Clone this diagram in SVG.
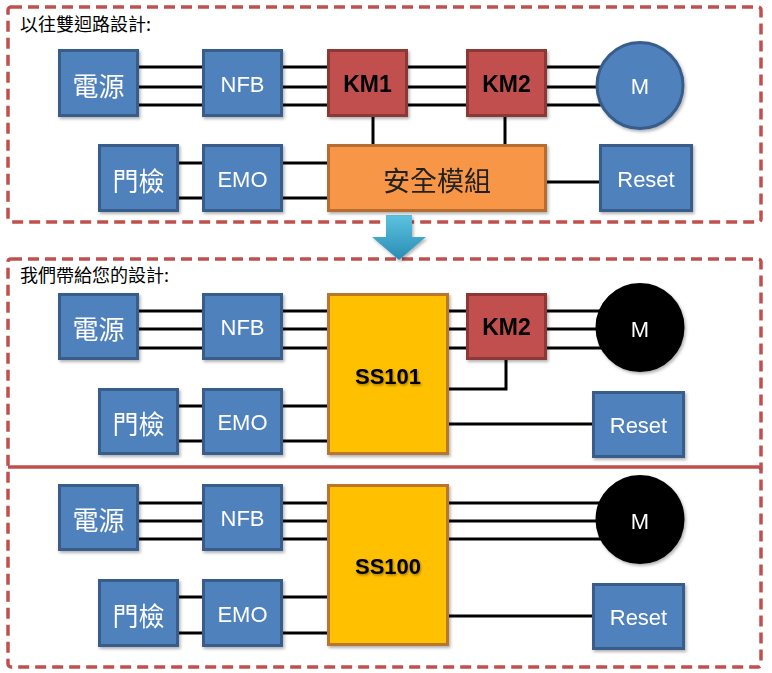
<svg xmlns="http://www.w3.org/2000/svg" width="772" height="673" viewBox="0 0 772 673">
<defs>
<filter id="sh" x="-20%" y="-20%" width="140%" height="140%">
<feDropShadow dx="1.5" dy="2" stdDeviation="1.5" flood-color="#000" flood-opacity="0.3"/>
</filter>
<filter id="tsh" x="-20%" y="-20%" width="140%" height="140%">
<feDropShadow dx="1" dy="1.5" stdDeviation="1" flood-color="#000" flood-opacity="0.35"/>
</filter>
<linearGradient id="ag" x1="0" y1="0" x2="0" y2="1">
<stop offset="0" stop-color="#5CC3E0"/>
<stop offset="1" stop-color="#2A8BB3"/>
</linearGradient>
</defs>
<style>
.frame{fill:none;stroke:#C0504D;stroke-width:3.5;stroke-dasharray:11 6}
.sep{fill:none;stroke:#C0504D;stroke-width:3.5}
.blue{fill:#4F81BD;stroke:#385D8A;stroke-width:3}
.red{fill:#C0504D;stroke:#8C3836;stroke-width:3}
.orange{fill:#F79646;stroke:#B66D31;stroke-width:3}
.yellow{fill:#FFC000;stroke:#B8762E;stroke-width:3}
.mblue{fill:#4F81BD;stroke:#385D8A;stroke-width:3}
.mblack{fill:#000;stroke:#000;stroke-width:2}
.w{fill:#fff;font-family:"Liberation Sans","Noto Sans CJK TC",sans-serif;font-size:22px;text-anchor:middle;dominant-baseline:central}
.cjk{fill:#fff;font-family:"Noto Sans CJK TC",sans-serif;font-size:26px;text-anchor:middle;dominant-baseline:central}
.k{fill:#000;font-family:"Liberation Sans",sans-serif;font-size:23px;font-weight:bold;text-anchor:middle;dominant-baseline:central}
.title{fill:#000;font-family:"Noto Sans CJK TC",sans-serif;font-size:18px}
.wire{fill:none;stroke:#000;stroke-width:3}
</style>

<g id="frames">
<rect class="frame" x="8" y="7" width="753" height="215" rx="3"/>
<rect class="frame" x="8" y="259" width="753" height="408" rx="3"/>
<path class="sep" d="M8 467 H758 Q761 467 761 470"/>
</g>

<g id="arrow" filter="url(#sh)">
<polygon points="386,215 412,215 412,237 426,237 399,260 372,237 386,237" fill="url(#ag)"/>
</g>

<g id="titles">
<text class="title" x="20" y="31">以往雙迴路設計:</text>
<text class="title" x="20" y="282">我們帶給您的設計:</text>
</g>

<g id="connectors">
<path class="wire" d="M139 67 H202 M139 87 H202 M139 105 H202"/>
<path class="wire" d="M283 67 H327 M283 87 H327 M283 105 H327"/>
<path class="wire" d="M408 67 H466 M408 87 H466 M408 105 H466"/>
<path class="wire" d="M547 67 H620 M547 87 H620 M547 105 H620"/>
<path class="wire" d="M373 117 V144 M505 117 V144"/>
<path class="wire" d="M179 163 H202 M179 198 H202"/>
<path class="wire" d="M283 163 H327 M283 198 H327"/>
<path class="wire" d="M547 182 H599"/>
<path class="wire" d="M139 311 H202 M139 329 H202 M139 348 H202"/>
<path class="wire" d="M283 311 H327 M283 329 H327 M283 348 H327"/>
<path class="wire" d="M449 311 H466 M449 329 H466 M449 348 H466"/>
<path class="wire" d="M547 311 H620 M547 329 H620 M547 348 H620"/>
<path class="wire" d="M506 360 V389 H449"/>
<path class="wire" d="M179 406 H202 M179 441 H202"/>
<path class="wire" d="M283 406 H327 M283 441 H327"/>
<path class="wire" d="M449 424 H592"/>
<path class="wire" d="M139 503 H202 M139 521 H202 M139 539 H202"/>
<path class="wire" d="M283 503 H327 M283 521 H327 M283 539 H327"/>
<path class="wire" d="M449 503 H620 M449 521 H620 M449 539 H620"/>
<path class="wire" d="M179 597 H202 M179 633 H202"/>
<path class="wire" d="M283 597 H327 M283 633 H327"/>
<path class="wire" d="M449 616 H592"/>
</g>

<g id="s1-power" filter="url(#sh)"><rect class="blue" x="59.5" y="50.5" width="78" height="65"/><text class="cjk" x="98.5" y="84">電源</text></g>
<g id="s1-nfb" filter="url(#sh)"><rect class="blue" x="203.5" y="50.5" width="78" height="65"/><text class="w" x="242.5" y="84">NFB</text></g>
<g id="s1-km1" filter="url(#sh)"><rect class="red" x="328.5" y="50.5" width="78" height="65"/><text class="k" x="367.5" y="84">KM1</text></g>
<g id="s1-km2" filter="url(#sh)"><rect class="red" x="467.5" y="50.5" width="78" height="65"/><text class="k" x="506.5" y="84">KM2</text></g>
<g id="s1-motor" filter="url(#sh)"><circle class="mblue" cx="640" cy="85.5" r="43"/><text class="w" x="640" y="86">M</text></g>
<g id="s1-door" filter="url(#sh)"><rect class="blue" x="99.5" y="145.5" width="78" height="65"/><text class="cjk" x="138.5" y="179">門檢</text></g>
<g id="s1-emo" filter="url(#sh)"><rect class="blue" x="203.5" y="145.5" width="78" height="65"/><text class="w" x="242.5" y="179">EMO</text></g>
<g id="s1-safety" filter="url(#sh)"><rect class="orange" x="328.5" y="145.5" width="217" height="65"/><text class="cjk" x="437" y="179" style="fill:#222;font-size:27px">安全模組</text></g>
<g id="s1-reset" filter="url(#sh)"><rect class="blue" x="600.5" y="145.5" width="91" height="65"/><text class="w" x="646" y="179">Reset</text></g>

<g id="s2-power" filter="url(#sh)"><rect class="blue" x="59.5" y="294.5" width="78" height="64"/><text class="cjk" x="98.5" y="327">電源</text></g>
<g id="s2-nfb" filter="url(#sh)"><rect class="blue" x="203.5" y="294.5" width="78" height="64"/><text class="w" x="242.5" y="327">NFB</text></g>
<g id="s2-ss101" filter="url(#sh)"><rect class="yellow" x="328.5" y="294.5" width="119" height="159"/><text class="k" x="388" y="376" filter="url(#tsh)" style="font-size:22px">SS101</text></g>
<g id="s2-km2" filter="url(#sh)"><rect class="red" x="467.5" y="294.5" width="78" height="64"/><text class="k" x="506.5" y="327">KM2</text></g>
<g id="s2-motor" filter="url(#sh)"><circle class="mblack" cx="640" cy="327.5" r="43.5"/><text class="w" x="640" y="329">M</text></g>
<g id="s2-door" filter="url(#sh)"><rect class="blue" x="99.5" y="389.5" width="78" height="64"/><text class="cjk" x="138.5" y="422">門檢</text></g>
<g id="s2-emo" filter="url(#sh)"><rect class="blue" x="203.5" y="389.5" width="78" height="64"/><text class="w" x="242.5" y="422">EMO</text></g>
<g id="s2-reset" filter="url(#sh)"><rect class="blue" x="593.5" y="392.5" width="90" height="64"/><text class="w" x="638.5" y="425">Reset</text></g>

<g id="s3-power" filter="url(#sh)"><rect class="blue" x="59.5" y="485.5" width="78" height="64"/><text class="cjk" x="98.5" y="518">電源</text></g>
<g id="s3-nfb" filter="url(#sh)"><rect class="blue" x="203.5" y="485.5" width="78" height="64"/><text class="w" x="242.5" y="518">NFB</text></g>
<g id="s3-ss100" filter="url(#sh)"><rect class="yellow" x="328.5" y="485.5" width="119" height="159"/><text class="k" x="388" y="566" filter="url(#tsh)" style="font-size:22px">SS100</text></g>
<g id="s3-motor" filter="url(#sh)"><circle class="mblack" cx="640" cy="519.5" r="43.5"/><text class="w" x="640" y="521">M</text></g>
<g id="s3-door" filter="url(#sh)"><rect class="blue" x="99.5" y="580.5" width="78" height="65"/><text class="cjk" x="138.5" y="614">門檢</text></g>
<g id="s3-emo" filter="url(#sh)"><rect class="blue" x="203.5" y="580.5" width="78" height="65"/><text class="w" x="242.5" y="614">EMO</text></g>
<g id="s3-reset" filter="url(#sh)"><rect class="blue" x="593.5" y="584.5" width="90" height="64"/><text class="w" x="638.5" y="617">Reset</text></g>
</svg>
